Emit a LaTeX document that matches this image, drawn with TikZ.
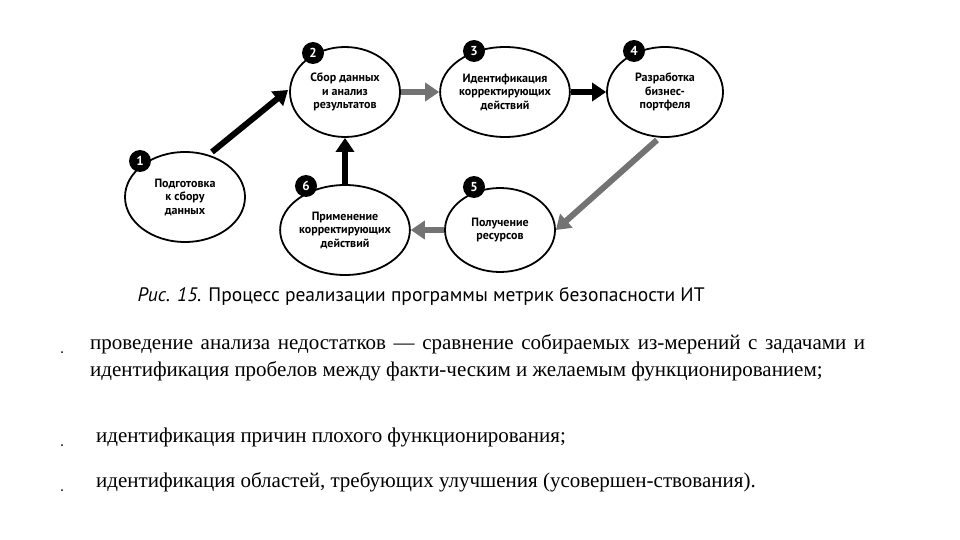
\documentclass[tikz,border=0pt]{standalone}
\usepackage{fontspec}
\setmainfont{Liberation Serif}
\newfontfamily\diag{PT Sans}
\usetikzlibrary{shapes.geometric,arrows.meta}
\begin{document}
\begin{tikzpicture}[x=1pt,y=-1pt,
  stage/.style={ellipse,draw,line width=1.8pt,minimum width=#1,minimum height=90pt,inner sep=0pt,align=center,font=\diag\bfseries\fontsize{12}{13.5}\selectfont},
  stage/.default=112pt,
  num/.style={circle,fill=black,text=white,minimum size=22pt,inner sep=0pt,font=\diag\bfseries\fontsize{13}{13}\selectfont},
  flow/.style={line width=6pt,-{Triangle[length=14pt,width=18pt]}},
  gflow/.style={line width=6pt,draw=black!55,-{Triangle[length=14pt,width=18pt,fill=black!55]}},
  body/.style={anchor=north west,text width=775pt,align=justify,font=\fontsize{21}{27}\selectfont,inner sep=0pt},
  bul/.style={circle,fill=black,inner sep=0pt,minimum size=2pt}]
\useasboundingbox (0,0) rectangle (960,540);
\node[stage=120pt] (s1) at (185,197) {Подготовка\\к сбору\\данных};
\node[stage=110pt] (s2) at (345,92) {Сбор данных\\и анализ\\результатов};
\node[stage=116pt] (s3) at (505,92) {Идентификация\\корректирующих\\действий};
\node[stage=116pt] (s4) at (665,92) {Разработка\\бизнес-\\портфеля};
\node[stage=110pt,minimum height=84pt] (s5) at (500,230) {Получение\\ресурсов};
\node[stage=116pt] (s6) at (345,230) {Применение\\корректирующих\\действий};
\node[num] (n1) at (140,161) {1};
\node[num] (n2) at (313,53) {2};
\node[num] (n3) at (474,51) {3};
\node[num] (n4) at (634,51) {4};
\node[num] (n5) at (474,187) {5};
\node[num] (n6) at (306,186) {6};
\coordinate (a1) at (212,152);
\coordinate (e1) at (288,90);
\draw[flow] (a1) -- (e1);
\draw[gflow] (s2.east) -- (s3.west);
\draw[flow] (s3.east) -- (s4.west);
\coordinate (a4) at (657,140);
\draw[gflow] (a4) -- (s5.east);
\draw[gflow] (s5.west) -- (s6.east);
\draw[flow] (s6.north) -- (s2.south);
\node[anchor=west,font=\diag\fontsize{19.5}{19.5}\selectfont] (cap) at (134,296) {\textit{Рис. 15.} Процесс реализации программы метрик безопасности ИТ};
\node[bul] (b1) at (62,352) {};
\node[bul] (b2) at (62,445) {};
\node[bul] (b3) at (62,490) {};
\node[body] (t1) at (90,334) {проведение анализа недостатков — сравнение собираемых из-мерений с задачами и идентификация пробелов между факти-ческим и желаемым функционированием;};
\node[body] (t2) at (96,428) {идентификация причин плохого функционирования;};
\node[body] (t3) at (96,472) {идентификация областей, требующих улучшения (усовершен-ствования).};
\end{tikzpicture}
\end{document}
